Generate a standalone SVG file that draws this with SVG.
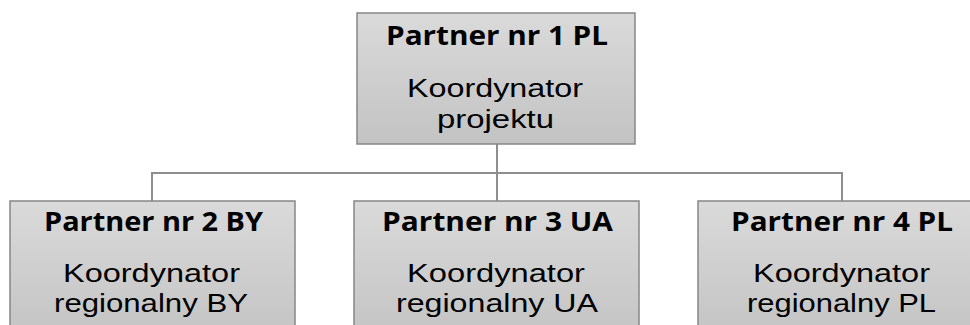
<svg xmlns="http://www.w3.org/2000/svg" width="970" height="325" viewBox="0 0 970 325">
<style>
.box{fill:url(#g);stroke:#878787;stroke-width:1.5}
.t{font-family:"Liberation Sans",Arial,sans-serif;font-size:26px;fill:#000;text-anchor:middle}
.b{font-family:"Open Sans","Liberation Sans",sans-serif;font-size:27px;font-weight:bold}
.c{fill:none;stroke:#8e8e8e;stroke-width:2}
</style>
<defs>
<linearGradient id="g" x1="0" y1="0" x2="0" y2="1">
<stop offset="0" stop-color="#dadada"/>
<stop offset="1" stop-color="#c3c3c3"/>
</linearGradient>
</defs>
<rect width="970" height="325" fill="#fff"/>
<g id="connectors">
<path class="c" d="M497 144V201M152 201V173H842V201"/>
</g>
<g id="n1">
<rect class="box" x="357" y="13" width="278" height="131"/>
<text class="t b" x="497" y="45" textLength="222" lengthAdjust="spacingAndGlyphs">Partner nr 1 PL</text>
<text class="t" x="495" y="97" textLength="176" lengthAdjust="spacingAndGlyphs">Koordynator</text>
<text class="t" x="495.5" y="128" textLength="117" lengthAdjust="spacingAndGlyphs">projektu</text>
</g>
<g id="n2">
<rect class="box" x="10" y="201" width="285" height="140"/>
<text class="t b" x="153.5" y="231" textLength="219" lengthAdjust="spacingAndGlyphs">Partner nr 2 BY</text>
<text class="t" x="151.5" y="282" textLength="177" lengthAdjust="spacingAndGlyphs">Koordynator</text>
<text class="t" x="151" y="312" textLength="194" lengthAdjust="spacingAndGlyphs">regionalny BY</text>
</g>
<g id="n3">
<rect class="box" x="354" y="201" width="285" height="140"/>
<text class="t b" x="497.5" y="231" textLength="231" lengthAdjust="spacingAndGlyphs">Partner nr 3 UA</text>
<text class="t" x="496" y="282" textLength="178" lengthAdjust="spacingAndGlyphs">Koordynator</text>
<text class="t" x="497" y="312" textLength="202" lengthAdjust="spacingAndGlyphs">regionalny UA</text>
</g>
<g id="n4">
<rect class="box" x="698" y="201" width="285" height="140"/>
<text class="t b" x="842" y="231" textLength="222" lengthAdjust="spacingAndGlyphs">Partner nr 4 PL</text>
<text class="t" x="841.5" y="282" textLength="177" lengthAdjust="spacingAndGlyphs">Koordynator</text>
<text class="t" x="841.5" y="312" textLength="189" lengthAdjust="spacingAndGlyphs">regionalny PL</text>
</g>
</svg>
